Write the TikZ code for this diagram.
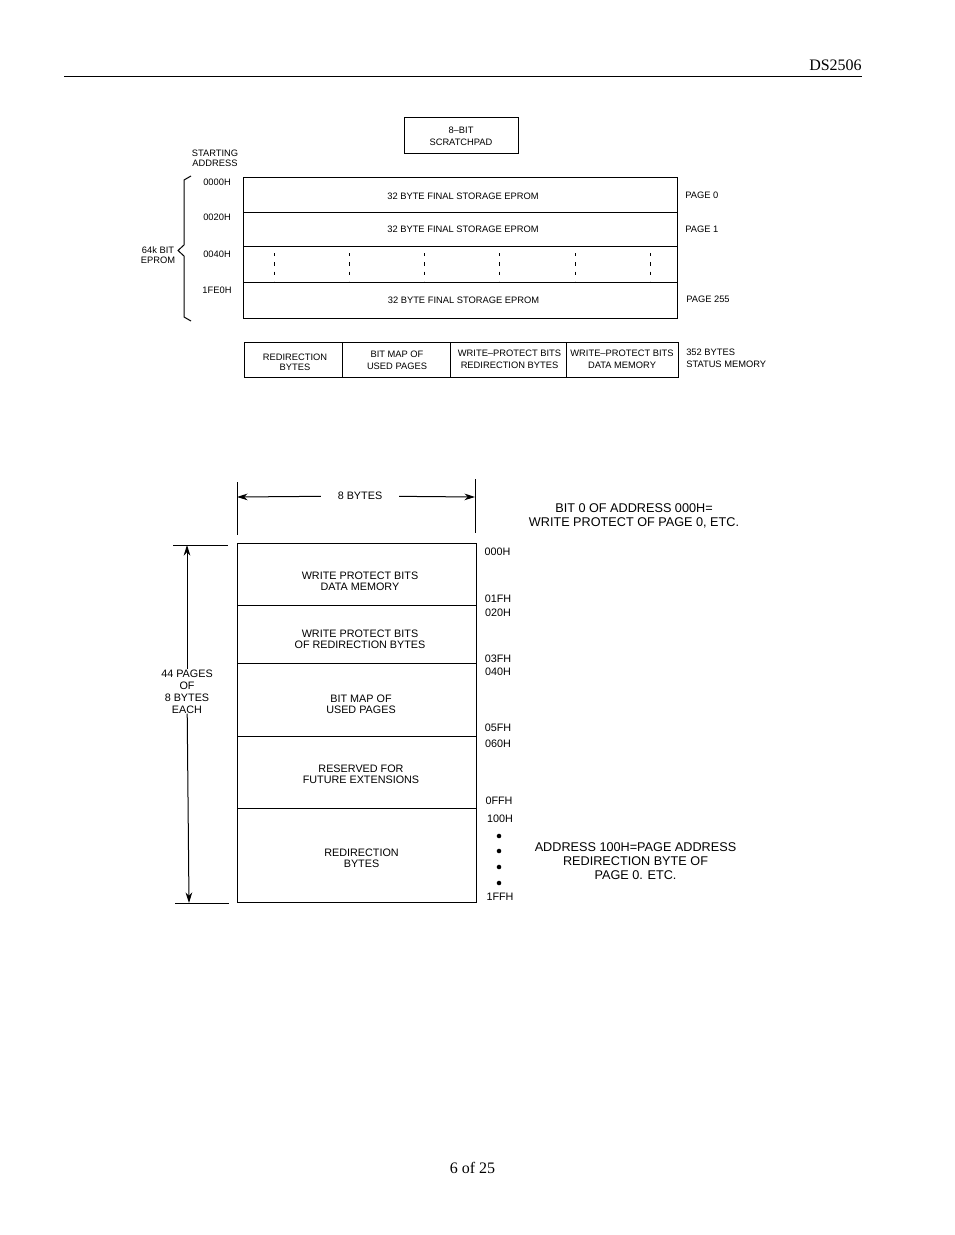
\documentclass[tikz,border=0pt]{standalone}
\usepackage{fontspec}
\usetikzlibrary{positioning,arrows.meta}
\setmainfont{Liberation Serif}
\setsansfont{Liberation Sans}
\tikzset{
   box/.style 2 args={draw,line width=0.75pt,outer sep=0pt,inner sep=0pt,minimum width=#1*0.75pt,minimum height=#2*0.75pt},
   small/.style={inner sep=0pt,align=center,font=\sffamily\fontsize{7}{7.2}\selectfont},
   wide/.style={inner sep=0pt,align=center,font=\sffamily\fontsize{7}{8.8}\selectfont},
   mid/.style={inner sep=0pt,align=center,font=\sffamily\fontsize{8.1}{8.2}\selectfont},
   note/.style={inner sep=0pt,align=center,font=\sffamily\fontsize{9.5}{10.6}\selectfont},
   dim/.style={-{Stealth[length=8pt,width=5pt]},line width=0.75pt}
}
\begin{document}
\begin{tikzpicture}[x=0.75pt,y=-0.75pt]
   \useasboundingbox (0,0) rectangle (954,1235);
   \draw[line width=0.75pt] (64,76.5) -- (862,76.5);
   \node[anchor=east,inner sep=0pt,font=\fontsize{12}{14}\selectfont] (head) at (862,65) {DS2506};
   \node[inner sep=0pt,font=\fontsize{12}{14}\selectfont] (foot) at (472.5,1168) {6 of 25};
   \node[box={114}{36}] (scr) at (461,135) {};
   \node[wide] (scrt) at (461,136) {8--BIT\\SCRATCHPAD};
   \node[small] (start) at (215,158) {STARTING\\ADDRESS};
   \node[box={434}{35}] (p0) at (460,194.5) {};
   \node[box={434}{34},below=0pt of p0] (p1) {};
   \node[box={434}{36},below=0pt of p1] (pd) {};
   \node[box={434}{36},below=0pt of pd] (p255) {};
   \node[small] (t0) at (463,196) {32 BYTE FINAL STORAGE EPROM};
   \node[small] (t1) at (463,229.5) {32 BYTE FINAL STORAGE EPROM};
   \node[small] (t255) at (463.5,300) {32 BYTE FINAL STORAGE EPROM};
   \foreach \x in {274,349,424,499,575,650}
      \draw[line width=0.6pt,dash pattern=on 2.5pt off 4.5pt] (\x,253) -- (\x,281);
   \node[small] (a0) at (217,182) {0000H};
   \node[small] (a1) at (217,217) {0020H};
   \node[small] (a2) at (217,254) {0040H};
   \node[small] (a3) at (217,290) {1FE0H};
   \node[small] (eprom) at (158,255) {64k BIT\\EPROM};
   \draw[line width=0.75pt] (191,176) -- (184,180) -- (184,245) -- (178,250.5) -- (184,256) -- (184,317) -- (191,321);
   \node[small,anchor=west] (l0) at (685,195) {PAGE 0};
   \node[small,anchor=west] (l1) at (685,229.5) {PAGE 1};
   \node[small,anchor=west] (l255) at (686,299) {PAGE 255};
   \node[box={98}{35}] (s0) at (293,360) {};
   \node[box={108}{35},right=0pt of s0] (s1) {};
   \node[box={116}{35},right=0pt of s1] (s2) {};
   \node[box={112}{35},right=0pt of s2] (s3) {};
   \node[small] (st0) at (295,362.5) {REDIRECTION\\BYTES};
   \node[wide] (st1) at (397,360.5) {BIT MAP OF\\USED PAGES};
   \node[wide] (st2) at (509.5,359.5) {WRITE--PROTECT BITS\\REDIRECTION BYTES};
   \node[wide] (st3) at (622,359.5) {WRITE--PROTECT BITS\\DATA MEMORY};
   \node[wide,align=left,anchor=west] (stat) at (686,358.5) {352 BYTES\\STATUS MEMORY};

   \coordinate (wl) at (237,497);
   \coordinate (wr) at (475,497);
   \draw[line width=0.75pt] (237,482) -- (237,535);
   \draw[line width=0.75pt] (475,479) -- (475,533);
   \node[mid,inner xsep=12.4pt] (bytes) at (360,496) {8 BYTES};
   \draw[dim] (bytes) -- (wl);
   \draw[dim] (bytes) -- (wr);
   \node[note] (n0) at (634,515.5) {BIT 0 OF ADDRESS 000H=\\WRITE PROTECT OF PAGE 0, ETC.};
   \node[box={239}{62}] (r0) at (357,574.5) {};
   \node[box={239}{58},below=0pt of r0] (r1) {};
   \node[box={239}{73},below=0pt of r1] (r2) {};
   \node[box={239}{72},below=0pt of r2] (r3) {};
   \node[box={239}{94},below=0pt of r3] (r4) {};
   \node[mid] (rt0) at (360,581) {WRITE PROTECT BITS\\DATA MEMORY};
   \node[mid] (rt1) at (360,639) {WRITE PROTECT BITS\\OF REDIRECTION BYTES};
   \node[mid] (rt2) at (361,704) {BIT MAP OF\\USED PAGES};
   \node[mid] (rt3) at (361,774.5) {RESERVED FOR\\FUTURE EXTENSIONS};
   \node[mid] (rt4) at (361.5,858) {REDIRECTION\\BYTES};
   \coordinate (tl) at (187,545);
   \coordinate (bl) at (189,903);
   \draw[line width=0.75pt] (173,545) -- (228,545);
   \draw[line width=0.75pt] (175,903) -- (229,903);
   \node[mid,font=\sffamily\fontsize{8.1}{9}\selectfont] (pages) at (187,691.5) {44 PAGES\\OF\\8 BYTES\\EACH};
   \draw[dim] (pages) -- (tl);
   \draw[dim] (pages) -- (bl);
   \node[mid] (e0) at (497.5,552) {000H};
   \node[mid] (e1) at (498,599) {01FH};
   \node[mid] (e2) at (498,613) {020H};
   \node[mid] (e3) at (498,658.5) {03FH};
   \node[mid] (e4) at (498,672) {040H};
   \node[mid] (e5) at (498,727.5) {05FH};
   \node[mid] (e6) at (498,743.5) {060H};
   \node[mid] (e7) at (499,800.5) {0FFH};
   \node[mid] (e8) at (500,818.5) {100H};
   \node[mid] (e9) at (500,897) {1FFH};
   \foreach \y in {836,851,867,883}
      \fill (499,\y) circle(1.7pt);
   \node[note] (n1) at (635.5,861) {ADDRESS 100H=PAGE ADDRESS\\REDIRECTION BYTE OF\\PAGE 0. ETC.};
\end{tikzpicture}
\end{document}
